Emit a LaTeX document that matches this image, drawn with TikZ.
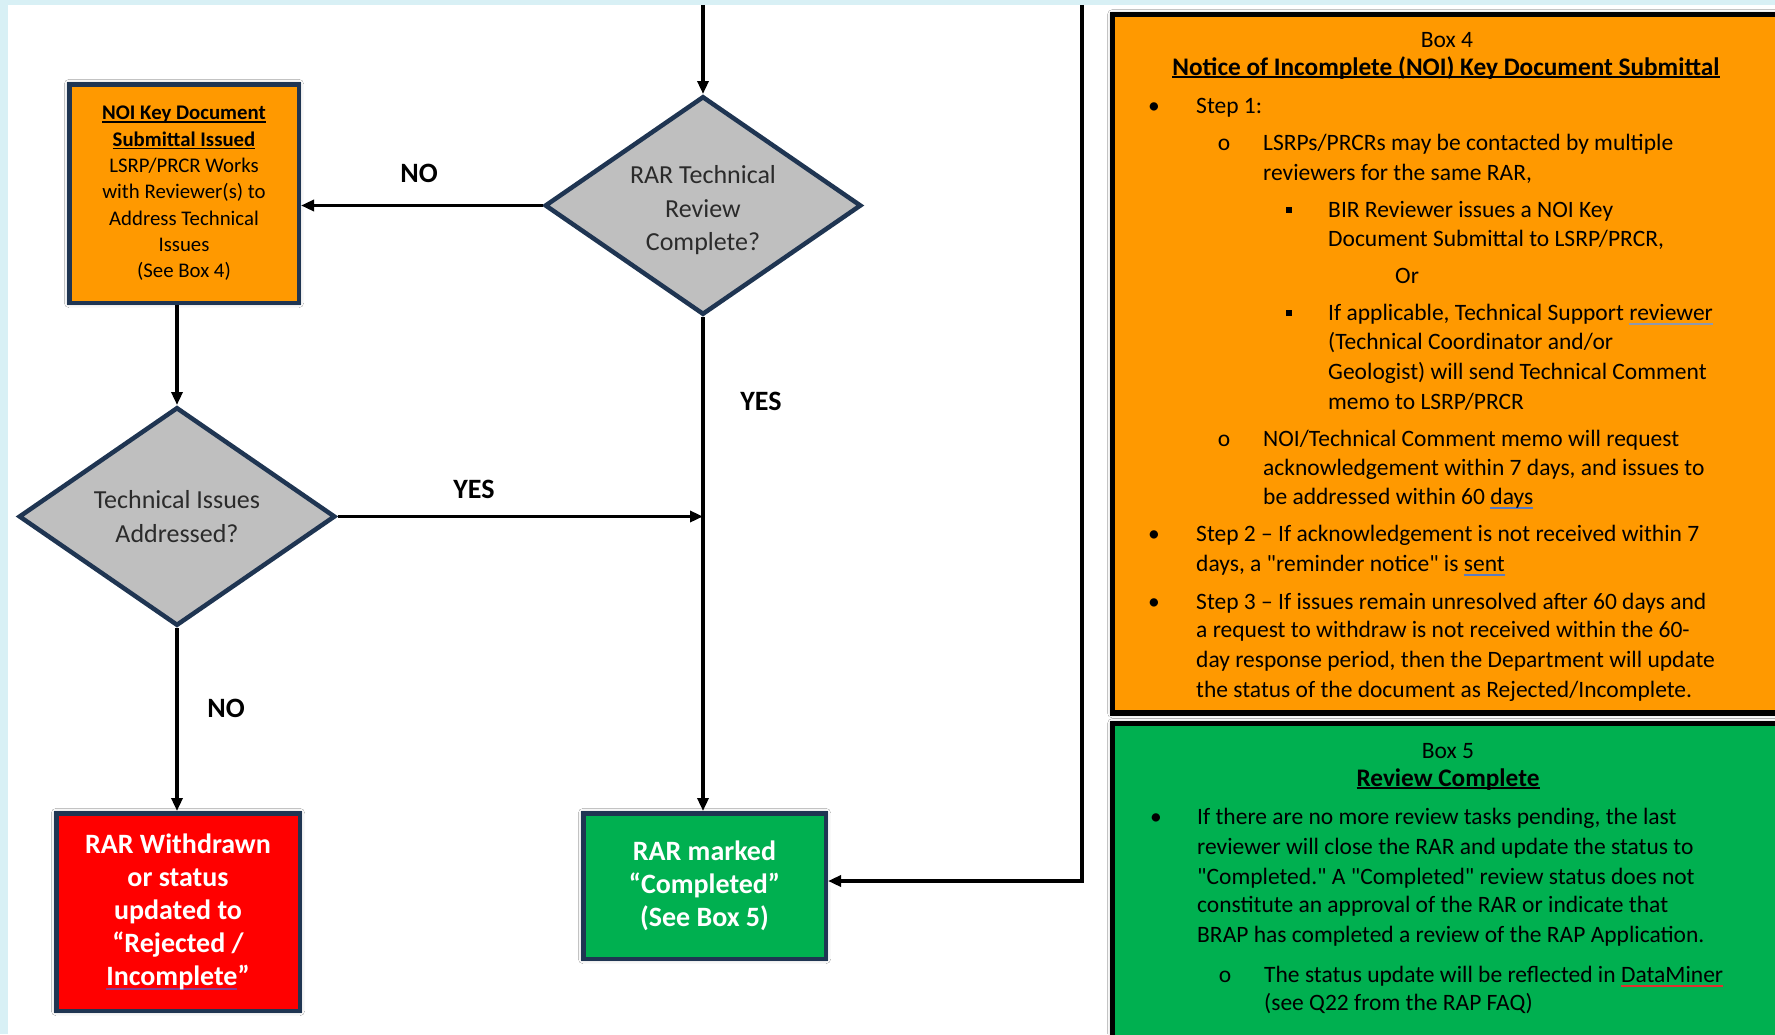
\documentclass[tikz,border=0pt]{standalone}
\usepackage{fontspec}
\setmainfont{Carlito}[Ligatures=TeXOff]
\usetikzlibrary{shapes.geometric,arrows.meta,shadows.blur}
\definecolor{orangeC}{HTML}{FF9900}
\definecolor{greenC}{HTML}{00B050}
\definecolor{redC}{HTML}{FF0000}
\definecolor{grayC}{HTML}{BFBFBF}
\definecolor{navyC}{HTML}{1F3552}
\definecolor{cyanbg}{HTML}{D8F0F5}
\definecolor{dtext}{HTML}{2B2B2B}
\definecolor{markgray}{HTML}{8E99AE}
\definecolor{markblue}{HTML}{5B7BC0}
\definecolor{markred}{HTML}{E03030}
\definecolor{markpurple}{HTML}{8A3C8A}
\newcommand\ulx[1]{\setbox0\hbox{#1}\rlap{\rule[-2.8pt]{\wd0}{1.4pt}}\box0}
\newcommand\wmark[2]{\setbox0\hbox{#2}\rlap{\textcolor{#1}{\rule[-4.5pt]{\wd0}{2pt}}}\box0}
\newcommand\TL[4]{\node[bodytxt, anchor=base west] (#1) at (#2,#3) {#4};}
\newcommand\TC[4]{\node[bodytxt, anchor=base] (#1) at (#2,#3) {#4};}
\begin{document}
\begin{tikzpicture}[x=1pt,y=-1pt,
  softshadow/.style={blur shadow={shadow blur radius=5pt, shadow xshift=0pt, shadow yshift=0pt, shadow opacity=35}},
  bigbox/.style={draw=black, line width=5.5pt, rectangle, inner sep=0pt, anchor=north west, softshadow},
  flowbox/.style={draw=navyC, line width=4.5pt, rectangle, inner sep=0pt, align=center, softshadow},
  decision/.style={diamond, draw=navyC, line width=4.5pt, fill=grayC, inner sep=0pt, aspect=1.45,
     minimum width=316.5pt, minimum height=218.5pt, align=center, text=dtext,
     font=\fontsize{26}{33.5}\selectfont},
  arr/.style={draw=black, line width=3.5pt, -{Triangle[length=13pt,width=11pt]}},
  lbl/.style={font=\bfseries\fontsize{28}{30}\selectfont, inner sep=0pt},
  bodytxt/.style={font=\fontsize{23.5}{29.6}\selectfont, inner sep=0pt, text=black},
  titletxt/.style={font=\bfseries\fontsize{25.3}{29.6}\selectfont, inner sep=0pt, text=black, anchor=base},
  sqb/.style={rectangle, fill=black, minimum size=6pt, inner sep=0pt}
]
\useasboundingbox (0,0) rectangle (1775,1034);
\fill[white] (0,0) rectangle (1775,1034);
\fill[cyanbg] (0,0) rectangle (1775,5);
\fill[cyanbg] (0,0) rectangle (8,1034);

% right panels
\node[bigbox, fill=orangeC, minimum width=720pt, minimum height=698.5pt] (box4) at (1109.75,11.75) {};
\node[bigbox, fill=greenC, minimum width=720pt, minimum height=340pt] (box5) at (1109.75,720.75) {};

% flowchart nodes
\node[decision] (d1) at (703,205.5) {\rule{0pt}{28pt}RAR Technical\\Review\\Complete?};
\node[decision] (d2) at (177,516.5) {\rule{0pt}{17pt}Technical Issues\\Addressed?};
\node[flowbox, fill=orangeC, minimum width=229.5pt, minimum height=218.5pt,
      font=\fontsize{20.8}{26.3}\selectfont, text=black] (noi) at (184,193.5)
  {\textbf{\ulx{NOI Key Document}}\\\textbf{\ulx{Submittal Issued}}\\LSRP/PRCR Works\\with Reviewer(s) to\\Address Technical\\Issues\\(See Box 4)};
\node[flowbox, fill=greenC, minimum width=242.5pt, minimum height=145.5pt,
      font=\bfseries\fontsize{28}{33}\selectfont, text=white] (green) at (704.5,886)
  {RAR marked\\“Completed”\\(See Box 5)};
\node[flowbox, fill=redC, minimum width=243.5pt, minimum height=197.5pt,
      font=\bfseries\fontsize{28}{33}\selectfont, text=white] (red) at (178,912)
  {RAR Withdrawn\\or status\\updated to\\“Rejected /\\\wmark{markpurple}{Incomplete}”};

% connectors
\coordinate (topin) at (703,5);
\coordinate (rtop) at (1082,5);
\coordinate (rbend) at (1082,881);
\draw[arr] (topin) -- (d1.north);
\draw[arr] (d1.west) -- (d1.west -| noi.east);
\draw[arr] (d2.north |- noi.south) -- (d2.north);
\draw[arr] (d2.east) -- (d2.east -| d1.south);
\draw[arr] (d1.south) -- (d1.south |- green.north);
\draw[arr] (d2.south) -- (d2.south |- red.north);
\draw[arr, line width=4pt] (rtop) -- (rbend) -- (rbend -| green.east);

% labels
\node[lbl] (noA) at (419,173) {NO};
\node[lbl] (yesA) at (761,401) {YES};
\node[lbl] (yesB) at (474,489) {YES};
\node[lbl] (noB) at (226,708) {NO};

% Box 4 text
\TC{b4h}{1447}{47}{Box 4}
\node[titletxt] (b4t) at (1446,75) {\ulx{Notice of Incomplete (NOI) Key Document Submittal}};
\TC{b4d1}{1154}{113}{•}
\TL{b4s1}{1196}{113}{Step 1:}
\TC{b4o1}{1224}{150}{o}
\TL{b4l1}{1263}{150}{LSRPs/PRCRs may be contacted by multiple}
\TL{b4l2}{1263}{180}{reviewers for the same RAR,}
\node[sqb] (b4q1) at (1289,210) {};
\TL{b4l3}{1328}{217}{BIR Reviewer issues a NOI Key}
\TL{b4l4}{1328}{246}{Document Submittal to LSRP/PRCR,}
\TL{b4or}{1395}{283}{Or}
\node[sqb] (b4q2) at (1289,313) {};
\TL{b4l5}{1328}{320}{If applicable, Technical Support \wmark{markgray}{reviewer}}
\TL{b4l6}{1328}{349}{(Technical Coordinator and/or}
\TL{b4l7}{1328}{379}{Geologist) will send Technical Comment}
\TL{b4l8}{1328}{409}{memo to LSRP/PRCR}
\TC{b4o2}{1224}{446}{o}
\TL{b4l9}{1263}{446}{NOI/Technical Comment memo will request}
\TL{b4l10}{1263}{475}{acknowledgement within 7 days, and issues to}
\TL{b4l11}{1263}{504}{be addressed within 60 \wmark{markblue}{days}}
\TC{b4d2}{1154}{541}{•}
\TL{b4l12}{1196}{541}{Step 2 – If acknowledgement is not received within 7}
\TL{b4l13}{1196}{571}{days, a "reminder notice" is \wmark{markblue}{sent}}
\TC{b4d3}{1154}{609}{•}
\TL{b4l14}{1196}{609}{Step 3 – If issues remain unresolved after 60 days and}
\TL{b4l15}{1196}{637}{a request to withdraw is not received within the 60-}
\TL{b4l16}{1196}{667}{day response period, then the Department will update}
\TL{b4l17}{1196}{697}{the status of the document as Rejected/Incomplete.}

% Box 5 text
\TC{b5h}{1448}{758}{Box 5}
\node[titletxt] (b5t) at (1448,786) {\ulx{Review Complete}};
\TC{b5d1}{1156}{824}{•}
\TL{b5l1}{1197}{824}{If there are no more review tasks pending, the last}
\TL{b5l2}{1197}{854}{reviewer will close the RAR and update the status to}
\TL{b5l3}{1197}{884}{"Completed." A "Completed" review status does not}
\TL{b5l4}{1197}{912}{constitute an approval of the RAR or indicate that}
\TL{b5l5}{1197}{942}{BRAP has completed a review of the RAP Application.}
\TC{b5o1}{1225}{982}{o}
\TL{b5l6}{1264}{982}{The status update will be reflected in \wmark{markred}{DataMiner}}
\TL{b5l7}{1264}{1010}{(see Q22 from the RAP FAQ)}
\end{tikzpicture}
\end{document}
